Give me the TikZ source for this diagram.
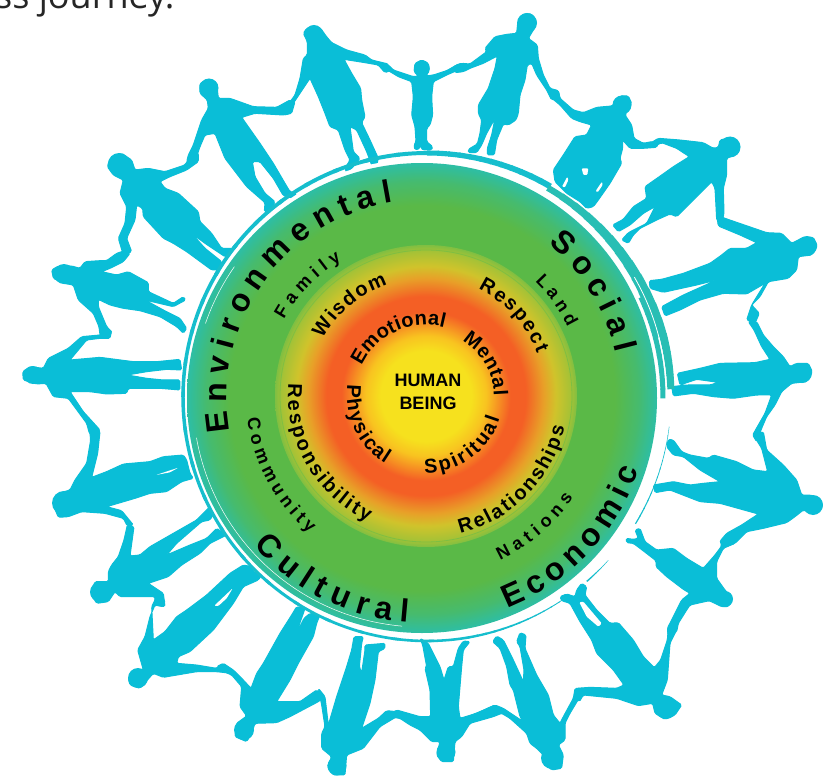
\documentclass[tikz,border=0pt]{standalone}
\usepackage{fontspec}
\setmainfont{Liberation Sans}
\newfontfamily\topfont{Open Sans}
\usetikzlibrary{decorations.text}
\definecolor{figcyan}{RGB}{10,190,215}
\definecolor{ringcyan}{RGB}{22,190,205}
\definecolor{ringteal}{RGB}{40,190,180}
\definecolor{dgreen}{RGB}{90,185,71}
\definecolor{dteal}{RGB}{45,190,165}
\definecolor{dmid}{RGB}{70,187,110}
\definecolor{cyel}{RGB}{246,225,30}
\definecolor{cyel2}{RGB}{248,195,32}
\definecolor{cred}{RGB}{244,95,37}
\definecolor{cora}{RGB}{232,160,40}
\definecolor{colive}{RGB}{208,195,43}
\definecolor{cgr1}{RGB}{165,194,54}
\definecolor{cgr2}{RGB}{127,191,66}
\pgfdeclareradialshading{outerdisc}{\pgfpoint{0bp}{0bp}}{color(0bp)=(dgreen); color(20.5bp)=(dgreen); color(23bp)=(dmid); color(25bp)=(dteal); color(100bp)=(dteal)}
\pgfdeclareradialshading{innerdisc}{\pgfpoint{0bp}{0bp}}{color(0bp)=(cyel); color(7.5bp)=(cyel); color(10bp)=(cyel2); color(14bp)=(cred); color(16.5bp)=(cred); color(19.5bp)=(cora); color(21.5bp)=(colive); color(24bp)=(cgr1); color(25bp)=(cgr2); color(100bp)=(cgr2)}
\tikzset{
  fig/.style={fill=figcyan,draw=figcyan,line width=1pt,rounded corners=1.5pt,line join=round},
  headdot/.style={fill=figcyan},
  hole/.style={fill=white,rounded corners=1pt},
  zoomA/.style={shift={(250,0)},x=1/3*1pt,y=-1/3*1pt},
  zoomC/.style={shift={(0,140)},x=1/3*1pt,y=-1/3*1pt},
  zoomD/.style={shift={(600,120)},x=1/3*1pt,y=-1/3*1pt},
  zoomE/.style={shift={(50,440)},x=1/3*1pt,y=-1/3*1pt},
  zoomF/.style={shift={(420,440)},x=1/3*1pt,y=-1/3*1pt},
  zoomG/.style={shift={(90,30)},x=1/3*1pt,y=-1/3*1pt},
  zoomH/.style={shift={(530,60)},x=1/3*1pt,y=-1/3*1pt},
  zoomJ/.style={shift={(620,360)},x=1/3*1pt,y=-1/3*1pt},
}
\newcommand\arclabel[6]{\path[decorate,decoration={text along path,text align={fit to path},text={|\fontsize{#5}{#5}\selectfont\bfseries|#6}}] ([shift={(#3:#2)}]#1) arc[start angle=#3,end angle=#4,radius=#2];}
\newcommand\tarc[6]{%
  \foreach \i in {0,...,11}{%
    \pgfmathsetmacro\sa{#1+(#2-#1)*\i/12}%
    \pgfmathsetmacro\ea{#1+(#2-#1)*(\i+1.15)/12}%
    \pgfmathsetmacro\wd{#4+(#5-#4)*(\i+.5)/12}%
    \draw[#6,line width=\wd pt] ([shift={(\sa:#3)}]427,397) arc[start angle=\sa,end angle=\ea,radius=#3];
  }}
\begin{document}
\begin{tikzpicture}[x=1pt,y=-1pt]
\useasboundingbox (0,0) rectangle (823,776);
\clip (0,0) rectangle (823,776);
\fill[white] (0,0) rectangle (823,776);
\node[anchor=base west,inner sep=0pt,font=\topfont\fontsize{36}{36}\selectfont,text=black!85] (top) at (-5,9) {ss journey.};

% --- figures ---
\begin{scope}[zoomA]
\draw[fig] (172,125)--(160,100)--(170,85)--(190,77)--(212,85)--(228,108)--(245,128)--(290,150)--(345,165)--(365,180)--(415,192)--(420,212)--(405,218)--(385,195)--(345,188)--(282,178)--(305,220)--(332,265)--(335,300)--(345,350)--(335,368)--(360,420)--(385,475)--(380,497)--(365,495)--(350,455)--(320,390)--(300,380)--(310,455)--(330,475)--(310,500)--(290,518)--(285,505)--(300,480)--(285,450)--(265,390)--(240,380)--(225,340)--(205,290)--(180,235)--(150,280)--(130,310)--(128,325)--(112,345)--(88,340)--(92,318)--(122,303)--(135,285)--(150,235)--(160,175)--(172,165)--cycle;
\draw[fig] (505,228)--(492,215)--(495,190)--(515,180)--(535,190)--(538,212)--(528,228)--(550,225)--(590,212)--(625,192)--(640,190)--(640,205)--(620,212)--(590,225)--(550,245)--(545,290)--(548,345)--(540,375)--(530,385)--(530,425)--(548,440)--(545,450)--(520,450)--(513,445)--(513,405)--(510,445)--(495,450)--(492,435)--(498,425)--(495,380)--(485,345)--(490,290)--(485,245)--(445,230)--(415,212)--(395,205)--(385,190)--(415,195)--(430,210)--(490,230)--cycle;
\draw[fig] (800,100)--(803,70)--(820,42)--(845,42)--(860,65)--(850,90)--(835,115)--(862,135)--(865,175)--(880,225)--(900,265)--(925,272)--(930,295)--(905,300)--(890,270)--(860,225)--(845,190)--(832,195)--(825,240)--(810,285)--(805,340)--(798,360)--(775,375)--(760,372)--(740,420)--(733,465)--(712,465)--(712,445)--(725,405)--(735,355)--(710,400)--(695,435)--(680,458)--(655,458)--(655,448)--(682,432)--(690,400)--(695,360)--(685,340)--(685,315)--(715,265)--(735,205)--(742,168)--(700,190)--(660,205)--(640,215)--(615,218)--(610,200)--(635,190)--(660,192)--(710,155)--(705,145)--(735,110)--(770,103)--cycle;
\end{scope}
\begin{scope}[zoomH]
\draw[fig] (250,135)--(270,108)--(295,108)--(305,130)--(285,165)--(305,195)--(312,235)--(340,250)--(365,245)--(385,250)--(380,262)--(340,265)--(300,265)--(278,240)--(278,265)--(270,295)--(275,310)--(240,370)--(205,420)--(190,440)--(170,445)--(150,425)--(110,400)--(75,365)--(70,330)--(100,285)--(135,230)--(170,225)--(185,195)--(150,185)--(125,175)--(90,135)--(60,110)--(55,90)--(85,92)--(90,115)--(130,150)--(160,158)--(200,142)--(245,138)--cycle;
\fill[hole] (155,325)--(175,325)--(172,345)--(160,345)--cycle;
\fill[hole] (112,350)--(115,360)--(105,382)--(96,380)--cycle;
\fill[hole] (216,365)--(218,375)--(203,397)--(197,393)--cycle;
\draw[fig] (565,262)--(570,240)--(605,232)--(630,255)--(625,280)--(590,295)--(590,345)--(580,385)--(582,460)--(575,490)--(560,480)--(558,440)--(555,385)--(545,365)--(510,400)--(470,440)--(440,470)--(420,462)--(380,480)--(330,505)--(310,525)--(295,550)--(275,540)--(295,518)--(350,490)--(375,440)--(340,460)--(300,495)--(265,515)--(248,495)--(280,478)--(310,440)--(350,415)--(345,380)--(395,345)--(430,320)--(478,290)--(440,265)--(395,248)--(375,258)--(360,250)--(385,235)--(450,240)--(520,248)--(550,265)--cycle;
\end{scope}
\begin{scope}[zoomD]
\draw[fig] (575,370)--(610,352)--(640,352)--(652,378)--(635,405)--(595,410)--(590,450)--(565,475)--(505,485)--(480,530)--(455,555)--(478,580)--(465,610)--(440,600)--(455,555)--(495,490)--(440,522)--(370,520)--(300,540)--(240,570)--(195,588)--(185,560)--(250,525)--(350,480)--(290,495)--(190,517)--(150,505)--(148,482)--(185,478)--(250,460)--(330,430)--(365,405)--(390,385)--(440,385)--(470,368)--(420,345)--(355,318)--(350,285)--(375,295)--(500,338)--(545,340)--cycle;
\draw[fig] (570,740)--(590,730)--(625,730)--(637,755)--(620,785)--(575,790)--(545,815)--(525,855)--(500,890)--(485,925)--(470,965)--(458,945)--(475,915)--(495,880)--(515,825)--(470,825)--(400,835)--(340,830)--(280,820)--(220,828)--(215,800)--(260,795)--(330,795)--(355,787)--(290,778)--(240,795)--(232,760)--(300,745)--(360,730)--(465,728)--(510,718)--(485,680)--(462,630)--(445,605)--(470,605)--(490,645)--(520,680)--(550,710)--cycle;
\end{scope}
\begin{scope}[zoomJ]
\draw[fig] (545,405)--(570,405)--(600,415)--(608,440)--(585,463)--(550,450)--(525,470)--(500,488)--(430,505)--(380,515)--(345,550)--(315,560)--(303,540)--(320,520)--(365,495)--(415,462)--(300,430)--(240,425)--(150,390)--(105,398)--(100,375)--(160,365)--(210,375)--(250,370)--(300,365)--(240,330)--(190,290)--(160,285)--(140,260)--(145,238)--(160,240)--(185,275)--(210,285)--(265,295)--(280,285)--(350,305)--(400,330)--(443,335)--(425,265)--(400,225)--(430,215)--(440,270)--(490,315)--(530,360)--cycle;
\end{scope}
\begin{scope}[zoomF]
\draw[fig] (890,415)--(915,450)--(937,475)--(925,500)--(905,500)--(868,482)--(810,495)--(800,510)--(775,550)--(770,575)--(745,590)--(742,565)--(760,530)--(785,480)--(810,460)--(790,448)--(740,410)--(708,380)--(708,362)--(660,325)--(640,310)--(620,308)--(618,295)--(640,298)--(655,295)--(645,270)--(660,265)--(675,305)--(710,330)--(760,325)--(800,355)--(850,385)--(885,345)--(905,318)--(900,300)--(925,290)--(945,310)--(910,325)--(890,365)--cycle;
\draw[fig] (725,765)--(750,770)--(785,795)--(765,825)--(735,838)--(705,820)--(698,790)--(655,797)--(590,775)--(490,765)--(478,785)--(462,770)--(470,745)--(510,742)--(590,745)--(612,735)--(580,690)--(530,640)--(515,600)--(480,545)--(450,490)--(425,482)--(420,470)--(440,462)--(465,470)--(470,450)--(485,430)--(500,440)--(495,465)--(530,510)--(570,550)--(595,548)--(640,600)--(670,650)--(703,683)--(722,660)--(742,600)--(745,565)--(770,570)--(750,610)--(742,720)--cycle;
\fill[hole] (478,487)--(490,485)--(545,550)--(535,560)--(500,530)--cycle;
\draw[fig] (370,945)--(350,925)--(330,910)--(320,880)--(270,835)--(245,820)--(200,825)--(150,840)--(130,835)--(180,815)--(225,795)--(250,805)--(310,845)--(300,830)--(280,750)--(270,735)--(260,680)--(240,625)--(218,605)--(230,588)--(250,600)--(280,660)--(310,725)--(312,690)--(300,620)--(290,605)--(300,578)--(318,585)--(315,625)--(350,705)--(385,765)--(400,825)--(420,850)--(430,830)--(460,775)--(465,745)--(490,745)--(480,770)--(450,820)--(435,850)--(435,900)--(415,915)--(430,945)--(425,985)--(395,990)--(370,965)--cycle;
\draw[fig] (60,905)--(50,945)--(65,965)--(100,965)--(105,905)--(125,890)--(150,850)--(220,830)--(245,820)--(225,795)--(170,820)--(120,835)--(115,800)--(125,680)--(130,630)--(150,605)--(130,603)--(115,625)--(100,680)--(85,680)--(72,720)--(60,680)--(30,620)--(25,610)--(0,595)--(8,615)--(20,680)--(15,685)--(30,750)--(32,830)--(0,830)--(-70,810)--(-100,830)--(-60,835)--(-30,855)--(0,870)--(35,905)--cycle;
\end{scope}
\begin{scope}[zoomE]
\draw[fig] (845,950)--(815,925)--(815,880)--(825,860)--(815,795)--(805,745)--(825,770)--(835,855)--(860,770)--(890,680)--(905,630)--(912,590)--(940,590)--(935,610)--(928,680)--(935,698)--(945,630)--(945,615)--(1005,610)--(1005,625)--(985,635)--(975,720)--(960,790)--(935,865)--(985,835)--(1010,812)--(1040,815)--(1040,830)--(990,860)--(940,925)--(890,945)--(885,1005)--(850,1005)--(832,980)--cycle;
\draw[fig] (590,828)--(570,800)--(575,740)--(545,705)--(510,690)--(500,680)--(520,670)--(550,690)--(580,720)--(603,745)--(620,700)--(640,670)--(690,580)--(725,525)--(740,500)--(765,505)--(760,520)--(735,590)--(762,535)--(780,520)--(810,525)--(800,550)--(790,590)--(745,670)--(720,720)--(680,785)--(750,785)--(800,750)--(825,770)--(805,785)--(720,830)--(680,848)--(615,850)--(605,880)--(590,905)--(555,890)--(560,850)--cycle;
\draw[fig] (280,690)--(263,630)--(285,590)--(300,530)--(315,495)--(340,500)--(345,480)--(320,470)--(305,500)--(310,600)--(345,575)--(380,530)--(410,510)--(470,465)--(540,400)--(580,375)--(605,380)--(610,395)--(635,405)--(625,420)--(580,440)--(550,490)--(490,570)--(420,635)--(385,650)--(380,670)--(440,675)--(500,685)--(520,670)--(545,700)--(500,695)--(440,695)--(340,712)--(310,700)--(270,745)--(240,735)--(235,715)--cycle;
\fill[hole] (493,497)--(548,445)--(530,475)--(505,498)--cycle;
\draw[fig] (175,425)--(175,395)--(185,375)--(205,350)--(222,300)--(232,255)--(252,260)--(240,348)--(270,345)--(300,320)--(370,280)--(440,240)--(480,200)--(495,215)--(480,240)--(455,245)--(380,310)--(350,345)--(420,315)--(470,295)--(500,265)--(530,285)--(510,295)--(480,310)--(450,340)--(395,375)--(355,410)--(295,430)--(340,460)--(345,500)--(315,495)--(315,470)--(280,470)--(240,470)--(210,470)--(195,455)--(175,485)--(140,490)--(122,460)--(135,425)--cycle;
\draw[fig] (60,150)--(75,120)--(110,70)--(122,0)--(118,-35)--(140,-40)--(150,-25)--(143,40)--(125,112)--(170,95)--(220,72)--(300,65)--(340,50)--(400,45)--(410,60)--(420,100)--(430,115)--(395,125)--(350,155)--(300,160)--(255,175)--(170,200)--(215,212)--(250,255)--(232,258)--(220,235)--(165,220)--(95,215)--(55,230)--(25,232)--(10,195)--(25,160)--cycle;
\fill[hole] (318,105)--(385,83)--(360,97)--cycle;
\end{scope}
\begin{scope}[zoomC]
\draw[fig] (130,685)--(145,655)--(205,625)--(245,590)--(300,585)--(335,570)--(330,595)--(300,595)--(260,600)--(210,660)--(300,652)--(400,665)--(470,665)--(540,658)--(545,690)--(500,688)--(440,695)--(382,705)--(440,715)--(490,720)--(540,720)--(540,750)--(480,745)--(385,745)--(380,760)--(320,762)--(270,755)--(210,755)--(250,815)--(300,870)--(285,890)--(268,880)--(260,850)--(205,775)--(160,770)--(138,730)--(110,732)--(70,720)--(68,695)--(90,680)--cycle;
\draw[fig] (240,385)--(255,365)--(300,362)--(320,362)--(350,340)--(380,330)--(390,340)--(370,365)--(330,385)--(305,395)--(350,405)--(385,395)--(445,428)--(445,455)--(520,490)--(550,470)--(557,480)--(520,500)--(435,480)--(490,510)--(540,535)--(560,565)--(550,580)--(530,560)--(480,530)--(420,512)--(370,505)--(330,495)--(295,478)--(295,500)--(320,560)--(335,575)--(325,597)--(300,585)--(297,560)--(280,520)--(235,480)--(220,435)--(190,430)--(160,415)--(155,390)--(175,378)--(215,378)--cycle;
\end{scope}
\begin{scope}[zoomG]
\draw[fig] (135,420)--(175,415)--(225,425)--(285,405)--(300,380)--(315,360)--(325,370)--(325,395)--(290,420)--(240,440)--(210,455)--(225,475)--(265,490)--(325,545)--(330,575)--(365,610)--(395,655)--(435,655)--(435,675)--(405,680)--(345,640)--(305,610)--(345,655)--(395,695)--(395,720)--(365,720)--(290,665)--(250,640)--(220,625)--(160,560)--(158,535)--(140,525)--(135,570)--(110,625)--(125,665)--(100,675)--(85,625)--(105,580)--(110,530)--(90,490)--(100,450)--(70,435)--(52,410)--(60,385)--(95,370)--(125,390)--cycle;
\draw[fig] (385,205)--(420,205)--(490,230)--(560,232)--(600,210)--(615,215)--(605,250)--(580,255)--(495,250)--(455,262)--(510,340)--(550,400)--(585,460)--(600,485)--(620,490)--(610,505)--(580,497)--(550,445)--(510,395)--(487,395)--(495,440)--(525,490)--(555,515)--(540,545)--(523,545)--(525,518)--(470,470)--(405,385)--(375,310)--(345,315)--(330,350)--(320,380)--(290,395)--(295,375)--(310,345)--(335,270)--(355,235)--(352,210)--(330,190)--(330,160)--(355,148)--(380,158)--cycle;
\end{scope}
% heads
\foreach \hx/\hy/\hr in {422/68/7.7,527/23/10,622/105/9.5,730/147/10.5,807/246/10,802/373/10,813/505/10,725/599/8,666/708/11,552/758/11,446/752/9.5,337/766/9.5,244/730/10,138/678/10,100/592/10,64/503/12,33/375/9,64/274/10,119/164/11,209/88/9.5,314/34/9}
  {\fill[headdot] (\hx,\hy) circle[radius=\hr];}

% --- ring ---
\fill[white] (422,398) circle[radius=239];
\tarc{80}{180}{244}{2.5}{3.5}{ringcyan}
\tarc{180}{270}{244}{3.5}{4}{ringcyan}
\tarc{270}{300}{244}{5}{6}{ringcyan}
\tarc{300}{345}{241.5}{6}{13}{ringteal}
\tarc{345}{358}{244}{8}{7}{ringteal}
\tarc{55}{80}{244}{.6}{2.5}{ringcyan}
\tarc{42}{49}{244}{.3}{1.5}{ringcyan}
\tarc{7}{31}{244}{.4}{1.2}{ringcyan}
\tarc{335}{360}{236}{5}{5}{ringteal}
\draw[white,line width=.8pt] ([shift={(330:239.5)}]427,397) arc[start angle=330,end angle=360,radius=239.5];

% --- disc ---
\shade[shading=outerdisc] (422,398) circle[radius=235];
\shade[shading=innerdisc] (426,396) circle[radius=151];
\draw[cgr2,line width=.8pt] (426,396) circle[radius=146];
\foreach \sa/\ea in {199/215,95/170}{\draw[white,line width=.5pt] ([shift={(\sa:229)}]422,398) arc[start angle=\sa,end angle=\ea,radius=229];}

% --- labels ---
\arclabel{424,397}{197}{170}{261}{32}{Environmental}
\arclabel{424,397}{197}{309}{347}{32}{Social}
\arclabel{424,397}{227}{68.5}{18.7}{32}{Economic}
\arclabel{424,397}{226}{139}{94}{32}{Cultural}
\arclabel{424,397}{160}{209}{239}{18}{Family}
\arclabel{424,397}{160}{314}{334}{18}{Land}
\arclabel{424,397}{180}{65}{34}{18}{Nations}
\arclabel{424,397}{178}{173}{130}{18}{Community}
\arclabel{426,396}{118}{209}{251}{20}{Wisdom}
\arclabel{426,396}{119}{296}{339}{20}{Respect}
\arclabel{426,396}{142}{76}{12.5}{20}{Relationships}
\arclabel{426,396}{138}{185}{115}{20}{Responsibility}
\arclabel{426,396}{71}{205}{285}{20}{Emotional}
\arclabel{428,397}{66}{301}{359}{20}{Mental}
\arclabel{426,396}{77}{91}{17}{20}{Spiritual}
\arclabel{426,396}{79}{188}{121}{20}{Physical}
\node[align=center,font=\fontsize{18}{23}\selectfont\bfseries,inner sep=0pt] (human) at (428,392) {HUMAN\\BEING};
\end{tikzpicture}
\end{document}
